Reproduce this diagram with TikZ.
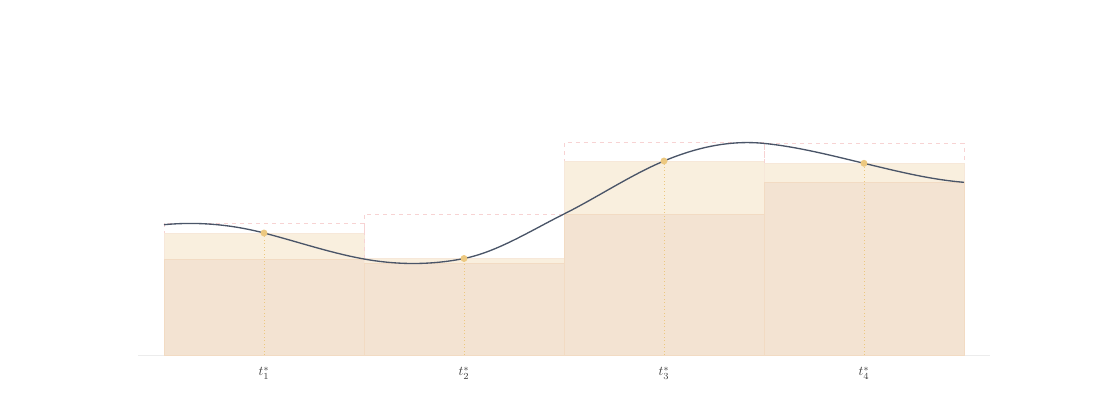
\documentclass[tikz,border=0pt]{standalone}
\usepackage{amsmath}
\usepackage{xcolor}
\usepackage{tikz}
\usetikzlibrary{calc}
\definecolor{lowfill}{RGB}{243,227,210}
\definecolor{tagfill}{RGB}{249,239,222}
\definecolor{edgeorange}{RGB}{232,190,146}
\definecolor{upperpink}{RGB}{245,200,200}
\definecolor{tagyellow}{RGB}{236,200,128}
\definecolor{curveslate}{RGB}{74,85,104}
\definecolor{axisgray}{RGB}{236,236,236}
\definecolor{labelgray}{RGB}{60,60,60}

\begin{document}
\begin{tikzpicture}[x=150pt, y=150pt]
    \useasboundingbox (-0.82,-0.225) rectangle (4.68,1.775);

    % Axis line
    \draw[axisgray, line width=0.6pt] (-0.13,0) -- (4.13,0);

    % Strips: left edge / lower / tagged / upper / index
    \foreach \i/\lo/\tg/\up/\n in {0/0.48/0.61/0.66/1, 1/0.4585/0.4825/0.705/2, 2/0.705/0.97/1.0625/3, 3/0.8635/0.9585/1.058/4} {
        \draw[upperpink!80, dashed, line width=0.5pt] (\i,0) rectangle ++(1,\up);
        \draw[edgeorange!35, line width=0.4pt, fill=tagfill] (\i,0) rectangle ++(1,\tg);
        \draw[edgeorange!55, line width=0.5pt, fill=lowfill] (\i,0) rectangle ++(1,\lo);
        \draw[tagyellow, dotted, line width=0.6pt] (\i+0.5,0) -- (\i+0.5,\tg);
        \node[labelgray] (t\n) at (\i+0.5,-0.09) {$t_{\n}^*$};
    }

    % Function curve (Hermite pieces)
    \draw[curveslate, line width=1pt] (0,0.6515)
        .. controls (0.1667,0.6672) and (0.3333,0.6533) .. (0.5,0.61)
        .. controls (0.6667,0.5667) and (0.8333,0.51) .. (1,0.48)
        .. controls (1.1667,0.45) and (1.3333,0.4492) .. (1.5,0.4825)
        .. controls (1.6667,0.5158) and (1.8333,0.6217) .. (2,0.705)
        .. controls (2.1667,0.7883) and (2.3333,0.9) .. (2.5,0.97)
        .. controls (2.6667,1.04) and (2.8333,1.0747) .. (3,1.058)
        .. controls (3.1667,1.0413) and (3.3333,0.9985) .. (3.5,0.9585)
        .. controls (3.6667,0.9185) and (3.8333,0.8768) .. (4,0.8635);

    % Tag points on the curve
    \foreach \i/\tg in {0/0.61, 1/0.4825, 2/0.97, 3/0.9585}
        \fill[tagyellow] (\i+0.5,\tg) circle (2.6pt);
\end{tikzpicture}
\end{document}
